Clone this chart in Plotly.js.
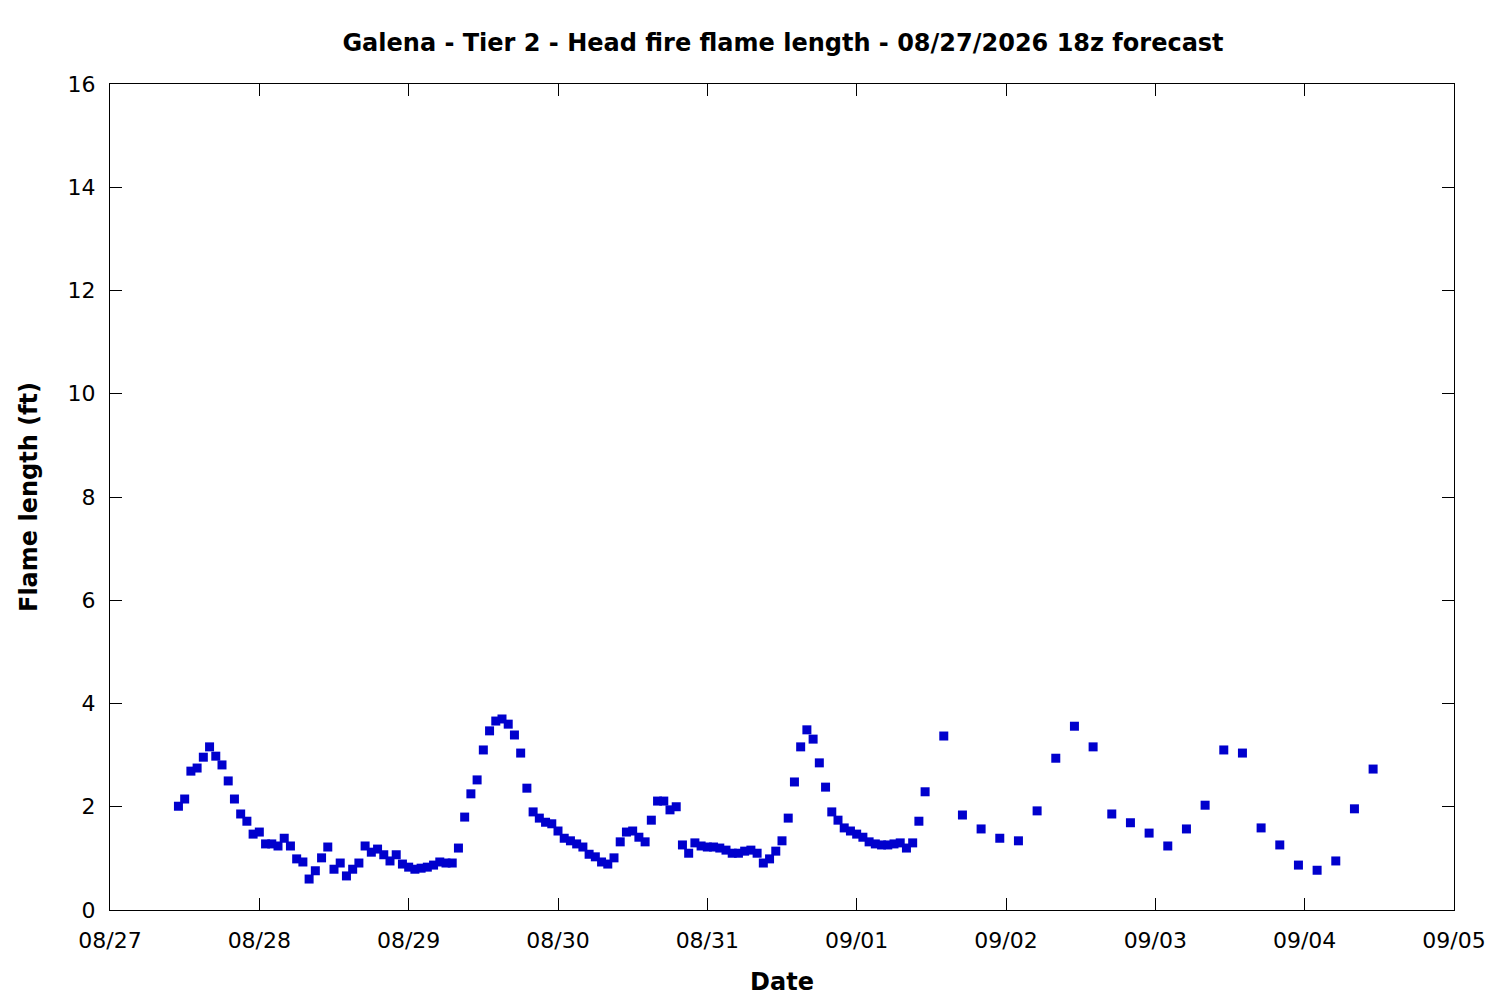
<!DOCTYPE html>
<html>
<head>
<meta charset="utf-8">
<script src="https://cdn.plot.ly/plotly-3.0.1.min.js"></script>
<style>
  html, body { margin: 0; padding: 0; background: #fff; }
  #chart { width: 1500px; height: 1000px; }
</style>
</head>
<body>
<div id="chart"></div>
<script>
// hourly forecast steps, 08/27 11:00 through 09/01 11:00
const hourlyTimes = [
  "2026-08-27 11:00", "2026-08-27 12:00", "2026-08-27 13:00", "2026-08-27 14:00", "2026-08-27 15:00", "2026-08-27 16:00",
  "2026-08-27 17:00", "2026-08-27 18:00", "2026-08-27 19:00", "2026-08-27 20:00", "2026-08-27 21:00", "2026-08-27 22:00",
  "2026-08-27 23:00",
  "2026-08-28 00:00", "2026-08-28 01:00", "2026-08-28 02:00", "2026-08-28 03:00", "2026-08-28 04:00", "2026-08-28 05:00",
  "2026-08-28 06:00", "2026-08-28 07:00", "2026-08-28 08:00", "2026-08-28 09:00", "2026-08-28 10:00", "2026-08-28 11:00",
  "2026-08-28 12:00", "2026-08-28 13:00", "2026-08-28 14:00", "2026-08-28 15:00", "2026-08-28 16:00", "2026-08-28 17:00",
  "2026-08-28 18:00", "2026-08-28 19:00", "2026-08-28 20:00", "2026-08-28 21:00", "2026-08-28 22:00", "2026-08-28 23:00",
  "2026-08-29 00:00", "2026-08-29 01:00", "2026-08-29 02:00", "2026-08-29 03:00", "2026-08-29 04:00", "2026-08-29 05:00",
  "2026-08-29 06:00", "2026-08-29 07:00", "2026-08-29 08:00", "2026-08-29 09:00", "2026-08-29 10:00", "2026-08-29 11:00",
  "2026-08-29 12:00", "2026-08-29 13:00", "2026-08-29 14:00", "2026-08-29 15:00", "2026-08-29 16:00", "2026-08-29 17:00",
  "2026-08-29 18:00", "2026-08-29 19:00", "2026-08-29 20:00", "2026-08-29 21:00", "2026-08-29 22:00", "2026-08-29 23:00",
  "2026-08-30 00:00", "2026-08-30 01:00", "2026-08-30 02:00", "2026-08-30 03:00", "2026-08-30 04:00", "2026-08-30 05:00",
  "2026-08-30 06:00", "2026-08-30 07:00", "2026-08-30 08:00", "2026-08-30 09:00", "2026-08-30 10:00", "2026-08-30 11:00",
  "2026-08-30 12:00", "2026-08-30 13:00", "2026-08-30 14:00", "2026-08-30 15:00", "2026-08-30 16:00", "2026-08-30 17:00",
  "2026-08-30 18:00", "2026-08-30 19:00", "2026-08-30 20:00", "2026-08-30 21:00", "2026-08-30 22:00", "2026-08-30 23:00",
  "2026-08-31 00:00", "2026-08-31 01:00", "2026-08-31 02:00", "2026-08-31 03:00", "2026-08-31 04:00", "2026-08-31 05:00",
  "2026-08-31 06:00", "2026-08-31 07:00", "2026-08-31 08:00", "2026-08-31 09:00", "2026-08-31 10:00", "2026-08-31 11:00",
  "2026-08-31 12:00", "2026-08-31 13:00", "2026-08-31 14:00", "2026-08-31 15:00", "2026-08-31 16:00", "2026-08-31 17:00",
  "2026-08-31 18:00", "2026-08-31 19:00", "2026-08-31 20:00", "2026-08-31 21:00", "2026-08-31 22:00", "2026-08-31 23:00",
  "2026-09-01 00:00", "2026-09-01 01:00", "2026-09-01 02:00", "2026-09-01 03:00", "2026-09-01 04:00", "2026-09-01 05:00",
  "2026-09-01 06:00", "2026-09-01 07:00", "2026-09-01 08:00", "2026-09-01 09:00", "2026-09-01 10:00", "2026-09-01 11:00"
];

const hourlyFlame = [
  2.01, 2.15, 2.69, 2.75, 2.96, 3.16, 2.98, 2.81, 2.50, 2.15, 1.86, 1.72, 1.47,
  1.51, 1.28, 1.28, 1.24, 1.39, 1.24, 0.99, 0.93, 0.60, 0.76, 1.01, 1.22,
  0.79, 0.91, 0.66, 0.79, 0.91, 1.24, 1.12, 1.18, 1.07, 0.95, 1.07, 0.89,
  0.83, 0.79, 0.81, 0.83, 0.87, 0.93, 0.91, 0.91, 1.20, 1.80, 2.25, 2.52,
  3.10, 3.47, 3.66, 3.70, 3.60, 3.39, 3.04, 2.36, 1.90, 1.78, 1.70, 1.67,
  1.53, 1.39, 1.34, 1.28, 1.22, 1.08, 1.03, 0.93, 0.89, 1.01, 1.32, 1.51,
  1.53, 1.41, 1.32, 1.74, 2.11, 2.11, 1.94, 2.00, 1.26, 1.10, 1.30, 1.24,
  1.22, 1.22, 1.20, 1.16, 1.10, 1.10, 1.14, 1.16, 1.10, 0.91, 0.99, 1.14,
  1.34, 1.78, 2.48, 3.16, 3.49, 3.31, 2.85, 2.38, 1.90, 1.74, 1.59, 1.53,
  1.47, 1.41, 1.32, 1.28, 1.26, 1.26, 1.28, 1.30, 1.20, 1.30, 1.72, 2.29
];

// 3-hourly steps after that
const threeHourlyTimes = [
  "2026-09-01 14:00", "2026-09-01 17:00", "2026-09-01 20:00", "2026-09-01 23:00",
  "2026-09-02 02:00", "2026-09-02 05:00", "2026-09-02 08:00", "2026-09-02 11:00",
  "2026-09-02 14:00", "2026-09-02 17:00", "2026-09-02 20:00", "2026-09-02 23:00",
  "2026-09-03 02:00", "2026-09-03 05:00", "2026-09-03 08:00", "2026-09-03 11:00",
  "2026-09-03 14:00", "2026-09-03 17:00", "2026-09-03 20:00", "2026-09-03 23:00",
  "2026-09-04 02:00", "2026-09-04 05:00", "2026-09-04 08:00", "2026-09-04 11:00"
];

const threeHourlyFlame = [
  3.37, 1.84, 1.57, 1.39, 1.34, 1.92, 2.94, 3.56,
  3.16, 1.86, 1.69, 1.49, 1.24, 1.57, 2.03, 3.10,
  3.04, 1.59, 1.26, 0.87, 0.77, 0.95, 1.96, 2.73
];

const dayTicks = ["2026-08-27", "2026-08-28", "2026-08-29", "2026-08-30", "2026-08-31",
  "2026-09-01", "2026-09-02", "2026-09-03", "2026-09-04", "2026-09-05"];
const dayLabels = ["08/27", "08/28", "08/29", "08/30", "08/31", "09/01", "09/02", "09/03", "09/04", "09/05"];
const yTicks = [0, 2, 4, 6, 8, 10, 12, 14, 16];

const FONT = "DejaVu Sans, Verdana, sans-serif";

const trace = {
  x: hourlyTimes.concat(threeHourlyTimes),
  y: hourlyFlame.concat(threeHourlyFlame),
  type: "scatter",
  mode: "markers",
  marker: { symbol: "square", size: 9, color: "rgb(0,0,205)" },
  hoverinfo: "x+y",
};

const axisCommon = {
  showline: true,
  linecolor: "#000",
  linewidth: 1,
  mirror: "allticks",
  ticks: "inside",
  ticklen: 12,
  tickwidth: 1,
  tickcolor: "#000",
  showgrid: false,
  zeroline: false,
  tickfont: { family: FONT, size: 22, color: "#000" },
};

const layout = {
  width: 1500,
  height: 1000,
  paper_bgcolor: "#fff",
  plot_bgcolor: "#fff",
  showlegend: false,
  margin: { l: 110, r: 46, t: 84, b: 90 },
  title: {
    text: "<b>Galena - Tier 2 - Head fire flame length - 08/27/2026 18z forecast</b>",
    font: { family: FONT, size: 24, color: "#000" },
    x: 0.522,
    xanchor: "center",
    y: 0.957,
    yanchor: "middle",
  },
  xaxis: Object.assign({}, axisCommon, {
    type: "date",
    range: ["2026-08-27", "2026-09-05"],
    tickmode: "array",
    tickvals: dayTicks,
    ticktext: dayLabels,
    ticklabelstandoff: 11,
    title: { text: "<b>Date</b>", font: { family: FONT, size: 24, color: "#000" }, standoff: 20 },
  }),
  yaxis: Object.assign({}, axisCommon, {
    range: [0, 16],
    tickmode: "array",
    tickvals: yTicks,
    ticklabelstandoff: 9,
    title: { text: "<b>Flame length (ft)</b>", font: { family: FONT, size: 24, color: "#000" }, standoff: 23 },
  }),
};

Plotly.newPlot("chart", [trace], layout, { displayModeBar: false, staticPlot: true });
</script>
</body>
</html>
